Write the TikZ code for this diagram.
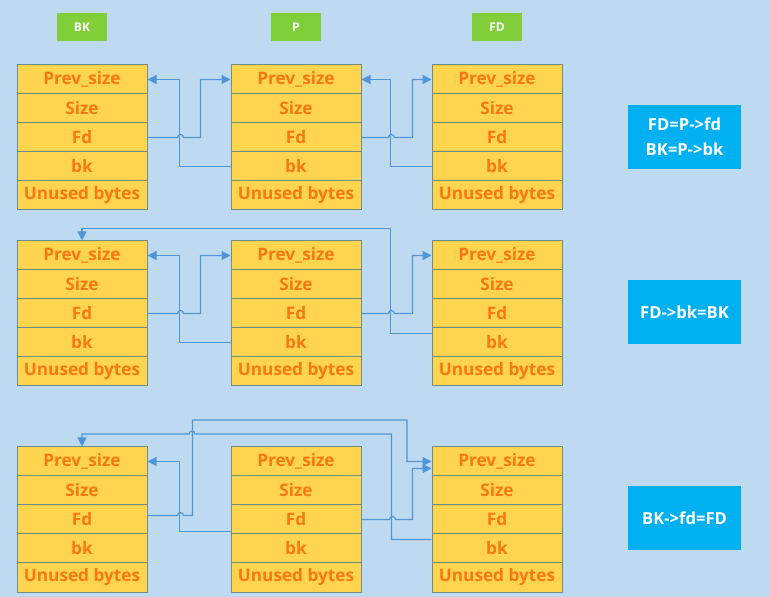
\documentclass[tikz,border=0pt]{standalone}
\usepackage{fontspec}
\setmainfont{Open Sans}
\usepackage{xcolor}
\usetikzlibrary{arrows.meta}
\definecolor{bgblue}{RGB}{189,218,240}
\definecolor{cellfill}{RGB}{255,213,79}
\definecolor{cellline}{RGB}{115,140,135}
\definecolor{celltext}{RGB}{250,120,20}
\definecolor{taggreen}{RGB}{128,206,56}
\definecolor{noteblue}{RGB}{0,176,240}
\definecolor{linkblue}{RGB}{80,150,215}
\tikzset{
	cell/.style={draw=cellline, line width=0.5pt, fill=cellfill, text=celltext, font=\bfseries\fontsize{8.6}{10}\selectfont, minimum width=65pt, minimum height=14.5pt, inner sep=0pt},
	tag/.style={fill=taggreen, text=white, font=\bfseries\fontsize{6}{7}\selectfont, minimum width=25pt, minimum height=14pt, inner sep=0pt},
	note/.style={fill=noteblue, text=white, align=center, font=\bfseries\fontsize{8.3}{12.5}\selectfont, minimum width=56.5pt, minimum height=32pt, inner sep=0pt},
	link/.style={draw=linkblue, line width=0.6pt, -{Triangle[length=4.5pt,width=4.5pt]}},
	hop/.style={radius=3}
}
\newcommand{\chunk}[3]{%
	\foreach \txt/\field [count=\i from 0] in {Prev\_size/prev,Size/size,Fd/fd,bk/bk,Unused bytes/unused}
		\node[cell] (#1-\field) at (#2, #3+29*\i) {\txt};}
\begin{document}
\begin{tikzpicture}[x=0.5pt,y=-0.5pt]
	\fill[bgblue] (0,0) rectangle (770,597);
	\useasboundingbox (0,0) rectangle (770,597);
	\node[tag] (tbk) at (82,27) {BK};
	\node[tag] (tp) at (296,27) {P};
	\node[tag] (tfd) at (497,27) {FD};
	\foreach \r/\y in {1/79.5, 2/255.5, 3/461.5} {
		\chunk{bk\r}{82}{\y}
		\chunk{p\r}{296}{\y}
		\chunk{fd\r}{497}{\y}
	}
	\node[note] (n1) at (684.5,137) {FD=P->fd\\BK=P->bk};
	\node[note] (n2) at (684.5,312) {FD->bk=BK};
	\node[note] (n3) at (684.5,518.5) {BK->fd=FD};
	\draw[link] (bk1-fd.east) -- ++(30,0) arc[start angle=180,end angle=360,hop] -- ++(17,0) |- (p1-prev.west);
	\draw[link] (p1-bk.west) -- ++(-51,0) |- (bk1-prev.east);
	\draw[link] (p1-fd.east) -- ++(27,0) arc[start angle=180,end angle=360,hop] -- ++(18,0) |- (fd1-prev.west);
	\draw[link] (fd1-bk.west) -- ++(-41,0) |- (p1-prev.east);
	\draw[link] (bk2-fd.east) -- ++(30,0) arc[start angle=180,end angle=360,hop] -- ++(17,0) |- (p2-prev.west);
	\draw[link] (p2-bk.west) -- ++(-51,0) |- (bk2-prev.east);
	\draw[link] (p2-fd.east) -- ++(27,0) arc[start angle=180,end angle=360,hop] -- ++(18,0) |- (fd2-prev.west);
	\draw[link] ([yshift=4.5pt]fd2-bk.west) -- ++(-41,0) -- ++(0,-105) -| (bk2-prev.north);
	\draw[link] ([yshift=2pt]bk3-fd.east) -- ++(30,0) arc[start angle=180,end angle=360,hop] -- ++(9,0) |- (407,420) |- (fd3-prev.west);
	\draw[link] ([yshift=8.5pt]p3-bk.west) -- ++(-51,0) |- (bk3-prev.east);
	\draw[link] (p3-fd.east) -- ++(28,0) arc[start angle=180,end angle=360,hop] -- ++(17,0) |- ([yshift=-3.5pt]fd3-prev.west);
	\draw[link] ([yshift=4.5pt]fd3-bk.west) -- ++(-40,0) |- (195,434) arc[start angle=0,end angle=-180,hop] -| (bk3-prev.north);
\end{tikzpicture}
\end{document}
